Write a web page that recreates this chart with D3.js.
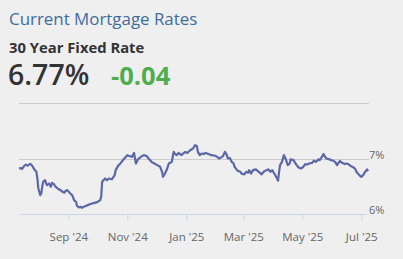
<!DOCTYPE html>
<html>
<head>
<meta charset="utf-8">
<script src="https://cdn.jsdelivr.net/npm/d3@7"></script>
<style>
  html, body { margin: 0; padding: 0; background: #efefef; }
  svg { display: block; font-family: "Open Sans", "Noto Sans", sans-serif; }
</style>
</head>
<body>
<svg id="chart"></svg>
<script>
// header texts
const title = "Current Mortgage Rates"
const productName = "30 Year Fixed Rate"
const currentRate = "6.77%"
const rateChange = "-0.04"

// daily 30 year fixed rate
const dates = [
  "2024-07-12","2024-07-14","2024-07-15","2024-07-17","2024-07-19","2024-07-21","2024-07-23","2024-07-24","2024-07-26","2024-07-28",
  "2024-07-30","2024-07-31","2024-08-01","2024-08-03","2024-08-04","2024-08-05","2024-08-06","2024-08-08","2024-08-09","2024-08-10",
  "2024-08-12","2024-08-14","2024-08-15","2024-08-17","2024-08-19","2024-08-21","2024-08-22","2024-08-24","2024-08-26","2024-08-28",
  "2024-08-29","2024-08-31","2024-09-02","2024-09-03","2024-09-05","2024-09-07","2024-09-09","2024-09-10","2024-09-12","2024-09-14",
  "2024-09-15","2024-09-17","2024-09-19","2024-09-21","2024-09-24","2024-09-28","2024-10-01","2024-10-04","2024-10-05","2024-10-06",
  "2024-10-09","2024-10-11","2024-10-13","2024-10-16","2024-10-19","2024-10-20","2024-10-23","2024-10-25","2024-10-27","2024-10-29",
  "2024-11-01","2024-11-03","2024-11-06","2024-11-08","2024-11-09","2024-11-10","2024-11-12","2024-11-15","2024-11-18","2024-11-21",
  "2024-11-23","2024-11-26","2024-11-29","2024-12-02","2024-12-05","2024-12-07","2024-12-08","2024-12-10","2024-12-12","2024-12-14",
  "2024-12-17","2024-12-19","2024-12-20","2024-12-22","2024-12-24","2024-12-27","2024-12-28","2024-12-31","2025-01-02","2025-01-05",
  "2025-01-08","2025-01-10","2025-01-12","2025-01-13","2025-01-15","2025-01-17","2025-01-19","2025-01-21","2025-01-24","2025-01-27",
  "2025-01-31","2025-02-02","2025-02-04","2025-02-07","2025-02-08","2025-02-10","2025-02-12","2025-02-13","2025-02-15","2025-02-17",
  "2025-02-19","2025-02-20","2025-02-23","2025-02-26","2025-02-27","2025-03-02","2025-03-04","2025-03-06","2025-03-07","2025-03-09",
  "2025-03-11","2025-03-14","2025-03-17","2025-03-18","2025-03-20","2025-03-22","2025-03-25","2025-03-27","2025-03-29","2025-03-31",
  "2025-04-02","2025-04-04","2025-04-06","2025-04-07","2025-04-08","2025-04-10","2025-04-12","2025-04-14","2025-04-16","2025-04-18",
  "2025-04-19","2025-04-22","2025-04-24","2025-04-27","2025-04-30","2025-05-02","2025-05-04","2025-05-06","2025-05-08","2025-05-11",
  "2025-05-13","2025-05-15","2025-05-18","2025-05-19","2025-05-21","2025-05-23","2025-05-24","2025-05-26","2025-05-29","2025-05-31",
  "2025-06-02","2025-06-04","2025-06-06","2025-06-07","2025-06-09","2025-06-11","2025-06-14","2025-06-16","2025-06-18","2025-06-20",
  "2025-06-23","2025-06-25","2025-06-26","2025-06-29","2025-07-01","2025-07-03","2025-07-05","2025-07-07","2025-07-08"
]
const rates = [
  6.82,6.83,6.81,6.86,6.89,6.87,6.90,6.90,6.86,6.80,
  6.76,6.64,6.46,6.34,6.37,6.49,6.58,6.61,6.55,6.52,
  6.55,6.49,6.56,6.54,6.49,6.46,6.445,6.43,6.40,6.385,
  6.415,6.43,6.39,6.37,6.34,6.25,6.22,6.145,6.12,6.13,
  6.11,6.13,6.145,6.16,6.18,6.20,6.215,6.25,6.31,6.58,
  6.64,6.61,6.64,6.625,6.70,6.79,6.88,6.91,6.96,7.00,
  7.06,7.045,7.03,7.10,7.00,6.91,6.985,7.03,7.06,7.045,
  7.00,6.94,6.91,6.88,6.85,6.76,6.67,6.73,6.805,6.91,
  6.94,7.12,7.09,7.06,7.10,7.06,7.08,7.12,7.10,7.15,
  7.18,7.24,7.225,7.12,7.06,7.09,7.08,7.10,7.08,7.06,
  7.05,7.03,7.00,7.03,7.045,7.12,7.06,7.00,7.01,6.94,
  6.91,6.85,6.78,6.76,6.73,6.715,6.76,6.745,6.79,6.73,
  6.79,6.805,6.76,6.745,6.715,6.76,6.79,6.805,6.76,6.79,
  6.73,6.67,6.60,6.76,6.88,6.94,7.06,6.985,6.88,6.91,
  6.985,6.97,6.91,6.84,6.82,6.85,6.90,6.89,6.91,6.92,
  6.96,6.94,6.985,6.97,7.02,7.08,7.045,7.00,6.985,6.97,
  6.96,6.94,6.88,6.91,6.955,6.925,6.90,6.91,6.895,6.865,
  6.84,6.805,6.76,6.70,6.67,6.70,6.76,6.805,6.77
]

// axis ticks
const tickDates = ["2024-09-01","2024-11-01","2025-01-01","2025-03-01","2025-05-01","2025-07-01"]
const tickLabels = ["Sep '24","Nov '24","Jan '25","Mar '25","May '25","Jul '25"]
const gridValues = [6, 7, 8]
const gridLabels = ["6%", "7%", ""]

const width = 403
const height = 259
const plot = { left: 19, right: 368, top: 103, bottom: 214 }

const parse = d3.timeParse("%Y-%m-%d")
const data = dates.map((d, i) => ({ date: parse(d), rate: rates[i] }))

const svg = d3.select('#chart')
  .attr('width', width)
  .attr('height', height)

// header
svg.append('text')
  .attr('x', 9).attr('y', 25)
  .attr('font-size', '16.9px')
  .attr('fill', '#3f6b9e')
  .text(title)

svg.append('text')
  .attr('x', 9).attr('y', 53)
  .attr('font-size', '14.8px')
  .attr('font-weight', 'bold')
  .attr('fill', '#333')
  .text(productName)

svg.append('text')
  .attr('x', 8).attr('y', 85)
  .attr('font-size', '28.5px')
  .attr('font-weight', 600)
  .attr('fill', '#333')
  .text(currentRate)

svg.append('text')
  .attr('x', 111).attr('y', 85)
  .attr('font-size', '25.5px')
  .attr('font-weight', 'bold')
  .attr('fill', '#4cae4c')
  .text(rateChange)

// scales
const x = d3.scaleTime()
  .domain(d3.extent(data, d => d.date))
  .range([plot.left, plot.right])

const y = d3.scaleLinear()
  .domain([6, 8])
  .range([plot.bottom, plot.top])

// gridlines + right labels
const grid = svg.append('g')
grid.selectAll('line')
  .data(gridValues.filter(v => v !== 6))
  .join('line')
  .attr('x1', plot.left).attr('x2', plot.right + 1)
  .attr('y1', d => Math.round(y(d)) + 0.5)
  .attr('y2', d => Math.round(y(d)) + 0.5)
  .attr('stroke', '#cccccc')

grid.selectAll('text')
  .data(gridValues)
  .join('text')
  .attr('x', plot.right + 1)
  .attr('y', d => Math.round(y(d)) - 0.5)
  .attr('font-size', '11px')
  .attr('fill', '#666')
  .text((d, i) => gridLabels[i])

// x axis
const xAxis = d3.axisBottom(x)
  .tickValues(tickDates.map(parse))
  .tickFormat((d, i) => tickLabels[i])
  .tickSize(6)
  .tickSizeOuter(0)

const gx = svg.append('g')
  .attr('transform', 'translate(0,' + (plot.bottom + 0.5) + ')')
  .call(xAxis)
gx.select('.domain').attr('stroke', '#ccd6eb').attr('d', 'M' + plot.left + ',0H' + (plot.right - 1))
gx.selectAll('.tick line').attr('stroke', '#ccd6eb')
gx.selectAll('.tick text')
  .attr('y', 18)
  .attr('font-family', '"Open Sans", "Noto Sans", sans-serif')
  .attr('font-size', '11.5px')
  .attr('fill', '#666')

// rate line
svg.append('path')
  .datum(data)
  .attr('fill', 'none')
  .attr('stroke', '#5c67a8')
  .attr('stroke-width', 2.2)
  .attr('stroke-linejoin', 'round')
  .attr('d', d3.line()
    .x(d => x(d.date))
    .y(d => y(d.rate))
  )
</script>
</body>
</html>
